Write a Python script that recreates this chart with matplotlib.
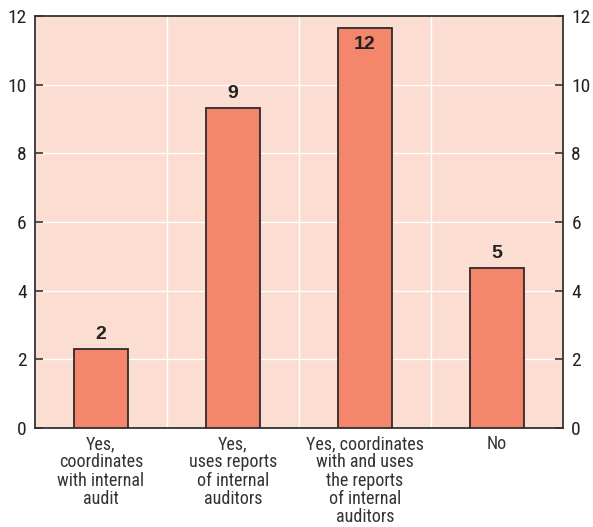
import matplotlib
matplotlib.use('Agg')
import matplotlib.pyplot as plt
from matplotlib import font_manager

# category names and values
categories = ['Yes,\ncoordinates\nwith internal\naudit',
              'Yes,\nuses reports\nof internal\nauditors',
              'Yes, coordinates\nwith and uses\nthe reports\nof internal\nauditors',
              'No']
bar_heights = [2.3, 9.33, 11.65, 4.66]
bar_labels = ['2', '9', '12', '5']
yticks = [0, 2, 4, 6, 8, 10, 12]

names = {f.name for f in font_manager.fontManager.ttflist}
fam = 'DejaVu Sans'
for cand in ['Roboto Condensed', 'Liberation Sans Narrow', 'Liberation Sans']:
    if cand in names:
        fam = cand
        break
plt.rcParams['font.family'] = [fam, 'DejaVu Sans']
label_fam = ['Liberation Sans', 'DejaVu Sans']

fig = plt.figure(figsize=(5.93, 5.27), dpi=100)
ax = fig.add_axes([35 / 593, 1 - 428 / 527, 528 / 593, 412 / 527])
ax.set_facecolor('#FCDDD2')

x = list(range(len(categories)))
ax.bar(x, bar_heights, width=0.41, color='#F4866C', edgecolor='#2b2b2b', linewidth=1.3, zorder=3)

for xi, h, lab in zip(x, bar_heights, bar_labels):
    if h > 11:
        ax.text(xi, h - 0.22, lab, ha='center', va='top', fontsize=14, fontweight='bold',
                family=label_fam, color='#222222', zorder=4)
    else:
        ax.text(xi, h + 0.17, lab, ha='center', va='bottom', fontsize=14, fontweight='bold',
                family=label_fam, color='#222222', zorder=4)

ax.set_xlim(-0.5, 3.5)
ax.set_ylim(0, 12)

for yt in yticks[1:-1]:
    ax.axhline(yt, color='white', linewidth=1.0, zorder=1)
for gx in [0.5, 1.5, 2.5]:
    ax.axvline(gx, color='white', linewidth=1.0, zorder=1)

ax.set_yticks(yticks)
ax.set_yticklabels([str(v) for v in yticks])
ax.tick_params(axis='y', direction='in', length=6, width=1.2, color='#333333',
               labelsize=14, labelcolor='#222222', left=True, right=True,
               labelleft=True, labelright=True, pad=6)
ax.set_xticks(x)
ax.set_xticklabels(categories, fontsize=13, color='#333333', linespacing=1.02)
ax.tick_params(axis='x', length=0, pad=5)

for s in ax.spines.values():
    s.set_color('#333333')
    s.set_linewidth(1.3)

fig.savefig('out.png', dpi=100)
